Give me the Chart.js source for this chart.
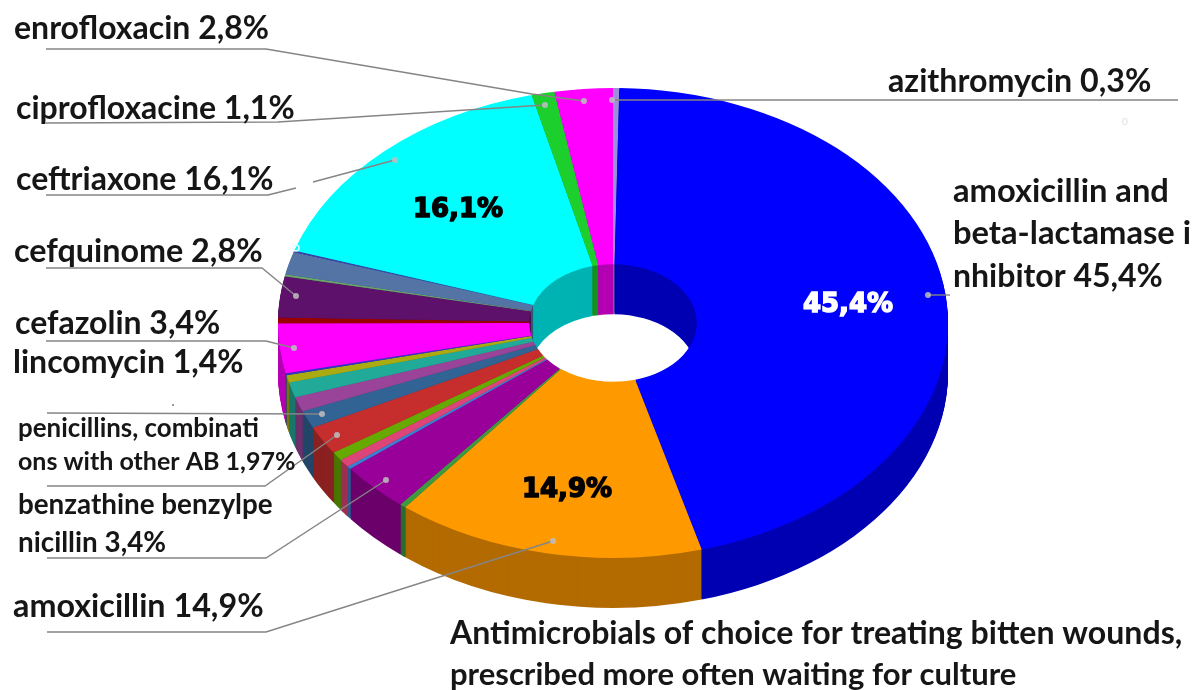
<!DOCTYPE html>
<html>
<head>
<meta charset="utf-8">
<style>
html, body { margin: 0; padding: 0; background: #fff; overflow: hidden; }
canvas { display: block; }
</style>
<script src="https://cdn.jsdelivr.net/npm/chart.js@4/dist/chart.umd.min.js"></script>
</head>
<body>
<canvas id="chart" width="1198" height="690"></canvas>
<script>
// slices run clockwise from 12 o'clock
const sliceNames = ['azithromycin', 'amoxicillin and beta-lactamase inhibitor', 'amoxicillin', 'other 1',
    'benzathine benzylpenicillin', 'other 2', 'other 3', 'other 4', 'penicillins, combinations with other AB',
    'other 5', 'other 6', 'other 7', 'other 8', 'other 9', 'cefazolin', 'lincomycin part', 'cefquinome',
    'other 10', 'other 11', 'other 12', 'ceftriaxone', 'ciprofloxacine', 'enrofloxacin'];
const sliceValues = [0.3, 45.4, 14.9, 0.3, 3.4, 0.2, 0.55, 0.6, 1.97, 1.2, 1.0, 1.05, 0.5, 0.15, 3.4, 0.4, 2.8,
    0.15, 1.55, 0.1, 16.1, 1.1, 2.8];
const sliceColors = ['#9c8fdc', '#0000ff', '#ff9900', '#3f9a3f', '#990099', '#3b7fd0', '#dd4477', '#66aa00',
    '#c62e2e', '#316395', '#994499', '#22aa99', '#aaaa11', '#3333cc', '#ff00ff', '#990000', '#5e116b',
    '#6aa86a', '#5574a6', '#3b3eac', '#00ffff', '#1ccf2c', '#ff00ff'];

// text, x, baseline, font px
const calloutLabels = [
    ['enrofloxacin 2,8%', 14, 39, 32],
    ['ciprofloxacine 1,1%', 16, 119, 32],
    ['ceftriaxone 16,1%', 16, 190, 32],
    ['cefquinome 2,8%', 14, 262, 32.3],
    ['cefazolin 3,4%', 15, 334, 32],
    ['lincomycin 1,4%', 13, 373, 32],
    ['penicillins, combinati', 18, 437, 25.9],
    ['ons with other AB 1,97%', 18, 470, 25],
    ['benzathine benzylpe', 18, 514, 27.8],
    ['nicillin 3,4%', 18, 552, 27.8],
    ['amoxicillin 14,9%', 13, 617, 32.3],
    ['azithromycin 0,3%', 888, 92, 32.2],
    ['amoxicillin and', 953, 202, 32.7],
    ['beta-lactamase i', 953, 244, 32.7],
    ['nhibitor 45,4%', 953, 287, 32],
    ['Antimicrobials of choice for treating bitten wounds,', 450, 644, 32.1],
    ['prescribed more often waiting for culture', 450, 685, 31]
];
const valueLabels = [
    ['16,1%', 458, 217, '#000'],
    ['45,4%', 848, 312, '#fff'],
    ['14,9%', 567, 497, '#000']
];
// leader polylines, the last point carries the dot
const leaderLines = [
    [[46, 49], [266, 49], [532, 94], [584, 101]],
    [[46, 123], [278, 122], [545, 105]],
    [[46, 195], [268, 195], [296, 188]],
    [[313, 182], [395, 160]],
    [[46, 268], [262, 268], [296, 296]],
    [[46, 341], [266, 341], [294, 348]],
    [[47, 413], [322, 414]],
    [[47, 486], [265, 486], [337, 435]],
    [[47, 558], [266, 558], [386, 480]],
    [[47, 632], [266, 632], [553, 541]],
    [[1178, 100], [612, 100]],
    [[950, 295], [928, 295]]
];

const topRx = 335;
const topRy = 235;
const centerY = 323;
const depth = 50;

function darken(hex) {
    const n = parseInt(hex.slice(1), 16);
    const c = [n >> 16, (n >> 8) & 255, n & 255].map(v => Math.round(v * 0.7));
    return 'rgb(' + c.join(',') + ')';
}

const pie3d = {
    id: 'pie3d',
    beforeDatasetsDraw(chart) {
        const ctx = chart.ctx;
        const arcs = chart.getDatasetMeta(0).data;
        const sy = topRy / topRx;
        const cy = arcs[0].y;
        // squash the round doughnut into the tilted ellipse
        ctx.save();
        ctx.translate(0, centerY);
        ctx.scale(1, sy);
        ctx.translate(0, -cy);
        for (let d = depth; d > 0; d--) {
            ctx.save();
            ctx.translate(0, d / sy);
            arcs.forEach((arc, i) => {
                const keep = arc.options;
                arc.options = Object.assign({}, keep, { backgroundColor: darken(sliceColors[i]) });
                arc.draw(ctx);
                arc.options = keep;
            });
            ctx.restore();
        }
    },
    afterDatasetsDraw(chart) {
        const ctx = chart.ctx;
        ctx.restore();

        ctx.strokeStyle = '#858585';
        ctx.lineWidth = 1.4;
        leaderLines.forEach(pts => {
            ctx.beginPath();
            pts.forEach((p, i) => i ? ctx.lineTo(p[0], p[1]) : ctx.moveTo(p[0], p[1]));
            ctx.stroke();
        });
        ctx.fillStyle = 'rgba(190,190,190,0.85)';
        leaderLines.forEach(pts => {
            const last = pts[pts.length - 1];
            if (last[0] === 296 && last[1] === 188) return;
            ctx.beginPath();
            ctx.arc(last[0], last[1], 3, 0, Math.PI * 2);
            ctx.fill();
        });
        // stray specks in the source
        ctx.fillStyle = '#999';
        ctx.fillRect(172, 404, 2, 2);
        ctx.strokeStyle = '#dff';
        ctx.lineWidth = 1.5;
        ctx.beginPath();
        ctx.arc(296, 248, 3, 0, Math.PI * 2);
        ctx.stroke();

        ctx.textAlign = 'left';
        ctx.textBaseline = 'alphabetic';
        ctx.fillStyle = '#161616';
        calloutLabels.forEach(l => {
            ctx.font = 'bold ' + l[3] + 'px Lato';
            ctx.fillText(l[0], l[1], l[2]);
        });
        ctx.font = '10px Lato';
        ctx.fillStyle = '#ddd';
        ctx.fillText('0', 1122, 125);

        ctx.textAlign = 'center';
        valueLabels.forEach(l => {
            ctx.font = 'bold 26px "DejaVu Sans"';
            ctx.fillStyle = l[3];
            ctx.strokeStyle = l[3];
            ctx.lineWidth = 1.5;
            ctx.strokeText(l[0], l[1], l[2]);
            ctx.fillText(l[0], l[1], l[2]);
        });
    }
};

new Chart(document.getElementById('chart'), {
    type: 'doughnut',
    data: {
        labels: sliceNames,
        datasets: [{
            data: sliceValues,
            backgroundColor: sliceColors,
            borderWidth: 0
        }]
    },
    options: {
        responsive: false,
        animation: false,
        cutout: '25%',
        layout: { padding: { left: 28, right: 0, top: 10, bottom: 10 } },
        plugins: { legend: { display: false }, tooltip: { enabled: false } }
    },
    plugins: [pie3d]
});
</script>
</body>
</html>
